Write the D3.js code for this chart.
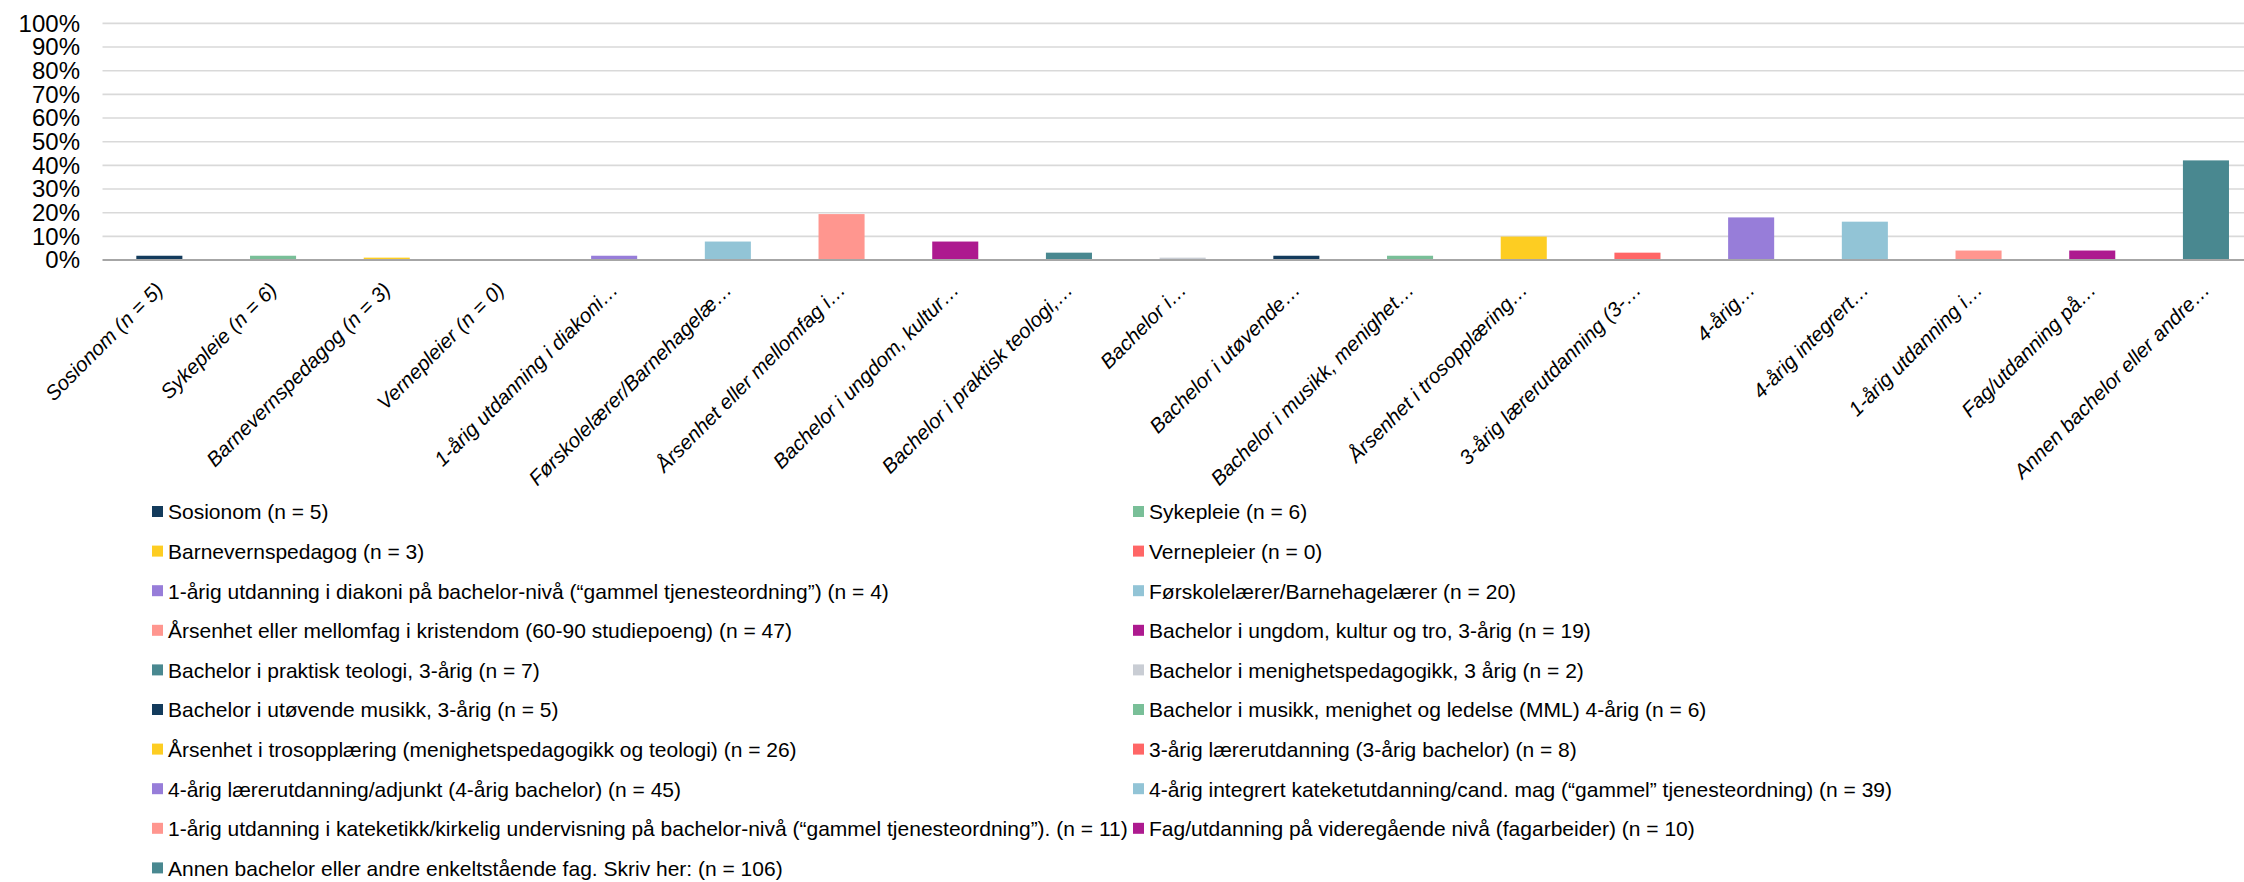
<!DOCTYPE html>
<html>
<head>
<meta charset="utf-8">
<script src="https://cdn.jsdelivr.net/npm/d3@7"></script>
<style>
  html, body { margin: 0; padding: 0; background: #ffffff; }
  svg { display: block; font-family: "Liberation Sans", Arial, sans-serif; }
</style>
</head>
<body>
<svg id="chart" width="2244" height="882"></svg>
<script>
// ---- data ----
const categories = [
  "Sosionom (n = 5)",
  "Sykepleie (n = 6)",
  "Barnevernspedagog (n = 3)",
  "Vernepleier (n = 0)",
  "1-årig utdanning i diakoni…",
  "Førskolelærer/Barnehagelæ…",
  "Årsenhet eller mellomfag i…",
  "Bachelor i ungdom, kultur…",
  "Bachelor i praktisk teologi,…",
  "Bachelor i…",
  "Bachelor i utøvende…",
  "Bachelor i musikk, menighet…",
  "Årsenhet i trosopplæring…",
  "3-årig lærerutdanning (3-…",
  "4-årig…",
  "4-årig integrert…",
  "1-årig utdanning i…",
  "Fag/utdanning på…",
  "Annen bachelor eller andre…"
];
const legendLabels = [
  "Sosionom (n = 5)",
  "Sykepleie (n = 6)",
  "Barnevernspedagog (n = 3)",
  "Vernepleier (n = 0)",
  "1-årig utdanning i diakoni på bachelor-nivå (“gammel tjenesteordning”) (n = 4)",
  "Førskolelærer/Barnehagelærer (n = 20)",
  "Årsenhet eller mellomfag i kristendom (60-90 studiepoeng) (n = 47)",
  "Bachelor i ungdom, kultur og tro, 3-årig (n = 19)",
  "Bachelor i praktisk teologi, 3-årig (n = 7)",
  "Bachelor i menighetspedagogikk, 3 årig (n = 2)",
  "Bachelor i utøvende musikk, 3-årig (n = 5)",
  "Bachelor i musikk, menighet og ledelse (MML) 4-årig (n = 6)",
  "Årsenhet i trosopplæring (menighetspedagogikk og teologi) (n = 26)",
  "3-årig lærerutdanning (3-årig bachelor) (n = 8)",
  "4-årig lærerutdanning/adjunkt (4-årig bachelor) (n = 45)",
  "4-årig integrert kateketutdanning/cand. mag (“gammel” tjenesteordning) (n = 39)",
  "1-årig utdanning i kateketikk/kirkelig undervisning på bachelor-nivå (“gammel tjenesteordning”). (n = 11)",
  "Fag/utdanning på videregående nivå (fagarbeider) (n = 10)",
  "Annen bachelor eller andre enkeltstående fag. Skriv her: (n = 106)"
];
const values = [0.018, 0.018, 0.010, 0.0, 0.018, 0.078, 0.194, 0.078, 0.031, 0.010,
                0.018, 0.018, 0.099, 0.031, 0.180, 0.162, 0.040, 0.040, 0.421];
const colors = ["#133b5c", "#79bf98", "#fdcd22", "#ff6666", "#977dd9", "#92c4d6", "#ff968f",
                "#ad1a8f", "#498890", "#c9cdd4", "#133b5c", "#79bf98", "#fdcd22", "#ff6666",
                "#977dd9", "#92c4d6", "#ff968f", "#ad1a8f", "#498890"];
const yTicks = [0, 0.1, 0.2, 0.3, 0.4, 0.5, 0.6, 0.7, 0.8, 0.9, 1.0];

// ---- layout ----
const svg = d3.select("#chart");
const W = 2244;
const plotLeft = 102.5, plotTop = 23.4, plotBottom = 260;
const step = 113.7;

const x = d3.scaleBand()
  .domain(categories)
  .range([plotLeft, plotLeft + step * categories.length])
  .paddingInner(0.595)
  .paddingOuter(0.2975);
const y = d3.scaleLinear().domain([0, 1]).range([plotBottom, plotTop]);

// gridlines
svg.append("g")
  .selectAll("line")
  .data(yTicks.filter(d => d > 0))
  .join("line")
  .attr("x1", plotLeft).attr("x2", W)
  .attr("y1", d => y(d)).attr("y2", d => y(d))
  .attr("stroke", "#d9d9d9").attr("stroke-width", 1.6);

// y axis labels
const yAxis = d3.axisLeft(y).tickValues(yTicks).tickSize(0).tickPadding(0)
  .tickFormat(d => Math.round(d * 100) + "%");
const gy = svg.append("g").attr("transform", `translate(80,0)`).call(yAxis);
gy.select(".domain").remove();
gy.selectAll("text")
  .attr("font-size", 24).attr("fill", "#000")
  .attr("font-family", "Liberation Sans, Arial, sans-serif");

// bars
svg.append("g")
  .selectAll("rect")
  .data(values)
  .join("rect")
  .attr("x", (d, i) => x(categories[i]))
  .attr("width", x.bandwidth())
  .attr("y", d => y(d))
  .attr("height", d => y(0) - y(d))
  .attr("fill", (d, i) => colors[i]);

// x axis
const xAxis = d3.axisBottom(x).tickSize(0).tickPadding(0);
const gx = svg.append("g").attr("transform", `translate(0,${plotBottom})`).call(xAxis);
gx.select(".domain").remove();
svg.append("line")
  .attr("x1", plotLeft).attr("x2", W)
  .attr("y1", y(0)).attr("y2", y(0))
  .attr("stroke", "#a6a6a6").attr("stroke-width", 2);
gx.selectAll(".tick text")
  .attr("font-size", 20.5)
  .attr("font-style", "italic")
  .attr("fill", "#000")
  .attr("font-family", "Liberation Sans, Arial, sans-serif")
  .attr("text-anchor", "end")
  .attr("y", 0).attr("dy", "0.35em")
  .attr("transform", "translate(0,26) rotate(-45)");

// legend
const colX = [152, 1133];
const rowY0 = 512, rowStep = 39.6;
const lg = svg.append("g")
  .selectAll("g")
  .data(legendLabels)
  .join("g")
  .attr("transform", (d, i) => `translate(${colX[i % 2]},${rowY0 + Math.floor(i / 2) * rowStep})`);
lg.append("rect")
  .attr("x", 0).attr("y", -6).attr("width", 11).attr("height", 11)
  .attr("fill", (d, i) => colors[i]);
lg.append("text")
  .attr("x", 16).attr("y", 0).attr("dy", "0.35em")
  .attr("font-size", 21).attr("fill", "#000")
  .text(d => d);
</script>
</body>
</html>
